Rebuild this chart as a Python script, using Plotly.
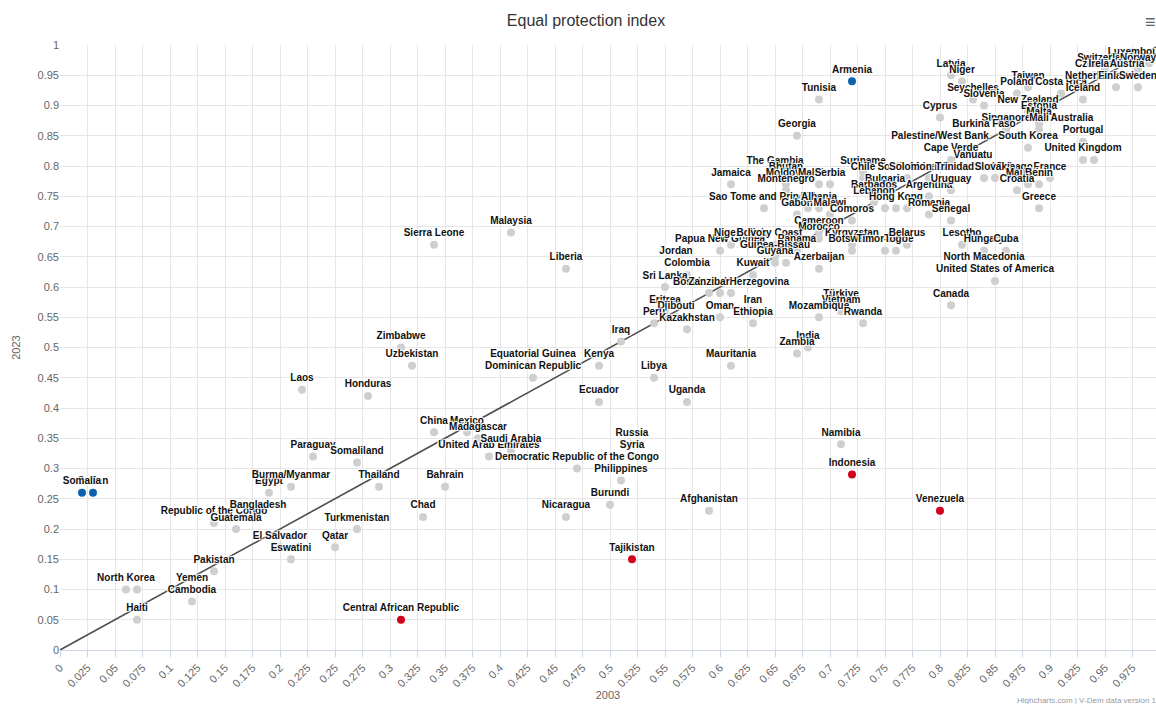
import plotly.graph_objects as go

# ---------------- data ----------------
countries = [
    "Sudan", "Somalia", "South Sudan", "North Korea", "Haiti", "Yemen", "Cambodia", "Pakistan",
    "Republic of the Congo", "Guatemala", "Bangladesh", "Egypt", "Burma/Myanmar", "Paraguay",
    "El Salvador", "Eswatini", "Qatar", "Turkmenistan", "Somaliland", "Thailand", "Honduras",
    "Laos", "Chad", "Bahrain", "Central African Republic", "China", "Mexico", "Madagascar",
    "United Arab Emirates", "Saudi Arabia", "Zimbabwe", "Uzbekistan", "Sierra Leone", "Malaysia",
    "Liberia", "Equatorial Guinea", "Dominican Republic", "Kenya", "Iraq", "Libya", "Ecuador",
    "Uganda", "Russia", "Syria", "Democratic Republic of the Congo", "Philippines", "Burundi",
    "Nicaragua", "Tajikistan", "Afghanistan", "Namibia", "Indonesia", "Venezuela", "Colombia",
    "Sri Lanka", "Jordan", "Bosnia and Herzegovina", "Tanzania", "Zanzibar", "Kuwait", "Eritrea",
    "Djibouti", "Peru", "Kazakhstan", "Oman", "Iran", "Ethiopia", "Türkiye", "Vietnam",
    "Mozambique", "Rwanda", "India", "Zambia", "Mauritania", "Jamaica", "The Gambia", "Bhutan",
    "Moldova", "Maldives", "Serbia", "Montenegro", "Sao Tome and Principe", "Gabon", "Fiji",
    "Albania", "Malawi", "Comoros", "Cameroon", "Morocco", "Kyrgyzstan", "Botswana",
    "Timor-Leste", "Togo", "Belarus", "Papua New Guinea", "Nigeria", "Bolivia", "Ivory Coast",
    "Panama", "Guinea-Bissau", "Guyana", "Nepal", "Azerbaijan", "Suriname", "Chile",
    "South Africa", "Solomon Islands", "Trinidad and Tobago", "Slovakia", "France", "Mauritius",
    "Benin", "Croatia", "Greece", "Bulgaria", "Barbados", "Lebanon", "Argentina", "Uruguay",
    "Hong Kong", "Israel", "Ghana", "Romania", "Senegal", "Lesotho", "Hungary", "Cuba",
    "North Macedonia", "United States of America", "Canada", "Armenia", "Tunisia", "Georgia",
    "Latvia", "Niger", "Seychelles", "Slovenia", "Cyprus", "Taiwan", "Poland", "Costa Rica",
    "Iceland", "New Zealand", "Estonia", "Malta", "Singapore", "Mali", "Australia",
    "Burkina Faso", "Palestine/West Bank", "South Korea", "Portugal", "Lithuania",
    "United Kingdom", "Germany", "Luxembourg", "Denmark", "Switzerland", "Norway", "Czechia",
    "Ireland", "Austria", "Netherlands", "Finland", "Sweden", "Cape Verde", "Vanuatu",
]

x2003 = [
    0.03, 0.02, 0.07, 0.06, 0.07, 0.12, 0.12, 0.14,
    0.14, 0.16, 0.18, 0.19, 0.21, 0.23,
    0.20, 0.21, 0.25, 0.27, 0.27, 0.29, 0.28,
    0.22, 0.33, 0.35, 0.31, 0.34, 0.37, 0.38,
    0.39, 0.41, 0.31, 0.32, 0.34, 0.41,
    0.46, 0.43, 0.43, 0.49, 0.51, 0.54, 0.49,
    0.57, 0.52, 0.52, 0.47, 0.51, 0.50,
    0.46, 0.52, 0.59, 0.71, 0.72, 0.80, 0.57,
    0.55, 0.56, 0.61, 0.60, 0.59, 0.63, 0.55,
    0.56, 0.54, 0.57, 0.60, 0.63, 0.63, 0.71, 0.71,
    0.69, 0.73, 0.68, 0.67, 0.61, 0.61, 0.65, 0.66,
    0.66, 0.69, 0.70, 0.66, 0.64, 0.67, 0.68,
    0.69, 0.70, 0.72, 0.69, 0.69, 0.72, 0.72,
    0.75, 0.76, 0.77, 0.60, 0.61, 0.63, 0.65,
    0.67, 0.65, 0.65, 0.66, 0.69, 0.73, 0.73,
    0.77, 0.79, 0.84, 0.85, 0.90, 0.88,
    0.89, 0.87, 0.89, 0.75, 0.74, 0.74, 0.79, 0.81,
    0.76, 0.75, 0.77, 0.79, 0.81, 0.82, 0.84, 0.86,
    0.84, 0.85, 0.81, 0.72, 0.69, 0.67,
    0.81, 0.82, 0.83, 0.84, 0.80, 0.88, 0.87, 0.91,
    0.93, 0.88, 0.89, 0.89, 0.86, 0.89, 0.92,
    0.84, 0.80, 0.88, 0.93, 0.95,
    0.93, 0.94, 0.98, 0.99, 0.95, 0.98, 0.94,
    0.95, 0.97, 0.94, 0.96, 0.98, 0.81, 0.83,
]

y2023 = [
    0.26, 0.26, 0.10, 0.10, 0.05, 0.10, 0.08, 0.13,
    0.21, 0.20, 0.22, 0.26, 0.27, 0.32,
    0.17, 0.15, 0.17, 0.20, 0.31, 0.27, 0.42,
    0.43, 0.22, 0.27, 0.05, 0.36, 0.36, 0.35,
    0.32, 0.33, 0.50, 0.47, 0.67, 0.69,
    0.63, 0.47, 0.45, 0.47, 0.51, 0.45, 0.41,
    0.41, 0.34, 0.32, 0.30, 0.28, 0.24,
    0.22, 0.15, 0.23, 0.34, 0.29, 0.23, 0.62,
    0.60, 0.64, 0.59, 0.59, 0.59, 0.62, 0.56,
    0.55, 0.54, 0.53, 0.55, 0.56, 0.54, 0.57, 0.56,
    0.55, 0.54, 0.50, 0.49, 0.47, 0.77, 0.79, 0.78,
    0.77, 0.77, 0.77, 0.76, 0.73, 0.72, 0.73,
    0.73, 0.72, 0.71, 0.69, 0.68, 0.67, 0.66,
    0.66, 0.66, 0.67, 0.66, 0.67, 0.67, 0.67,
    0.66, 0.65, 0.64, 0.64, 0.63, 0.79, 0.78,
    0.78, 0.78, 0.78, 0.78, 0.78, 0.77,
    0.77, 0.76, 0.73, 0.76, 0.75, 0.74, 0.75, 0.76,
    0.73, 0.73, 0.73, 0.72, 0.71, 0.67, 0.66, 0.66,
    0.63, 0.61, 0.57, 0.94, 0.91, 0.85,
    0.95, 0.94, 0.91, 0.90, 0.88, 0.93, 0.92, 0.92,
    0.91, 0.89, 0.88, 0.87, 0.86, 0.86, 0.86,
    0.85, 0.83, 0.83, 0.84, 0.83,
    0.81, 0.81, 0.97, 0.97, 0.96, 0.96, 0.95,
    0.95, 0.95, 0.93, 0.93, 0.93, 0.81, 0.80,
]

improved = ["Somalia", "Sudan", "Armenia"]
declined = ["Central African Republic", "Tajikistan", "Indonesia", "Venezuela"]
no_label = ["South Sudan", "Germany", "Denmark", "Lithuania", "Tanzania", "Nepal", "Ghana", "Israel"]

x_tick_labels = ["0", "0.025", "0.05", "0.075", "0.1", "0.125", "0.15", "0.175", "0.2", "0.225",
                 "0.25", "0.275", "0.3", "0.325", "0.35", "0.375", "0.4", "0.425", "0.45", "0.475",
                 "0.5", "0.525", "0.55", "0.575", "0.6", "0.625", "0.65", "0.675", "0.7", "0.725",
                 "0.75", "0.775", "0.8", "0.825", "0.85", "0.875", "0.9", "0.925", "0.95", "0.975"]
y_tick_labels = ["0", "0.05", "0.1", "0.15", "0.2", "0.25", "0.3", "0.35", "0.4", "0.45", "0.5",
                 "0.55", "0.6", "0.65", "0.7", "0.75", "0.8", "0.85", "0.9", "0.95", "1"]
diag = [0, 1]

# ---------------- styling ----------------
GRAY = "#cfcfcf"
BLUE = "#0b63ae"
RED = "#d0021b"
FONT = "Liberation Sans, Arial, sans-serif"

colors = [BLUE if c in improved else RED if c in declined else GRAY for c in countries]
labels = ["" if c in no_label else c for c in countries]

order = sorted(range(len(countries)), key=lambda i: colors[i] != GRAY)

fig = go.Figure()
fig.add_trace(go.Scatter(
    x=diag, y=diag, mode="lines",
    line=dict(color="#4d4d4d", width=1.6),
    hoverinfo="skip", showlegend=False,
))
fig.add_trace(go.Scatter(
    x=[x2003[i] for i in order], y=[y2023[i] for i in order],
    mode="markers+text",
    text=[labels[i] for i in order],
    hovertext=[countries[i] for i in order],
    textposition="top center",
    textfont=dict(family=FONT, size=10, color="#111111", weight="bold",
                  shadow="1px 1px 1px #fff, -1px -1px 1px #fff, 1px -1px 1px #fff, -1px 1px 1px #fff"),
    marker=dict(size=8, color=[colors[i] for i in order], line=dict(width=0)),
    cliponaxis=False,
    showlegend=False,
))

fig.update_layout(
    width=1156, height=704,
    margin=dict(l=60, r=0, t=45, b=54),
    paper_bgcolor="white", plot_bgcolor="white",
    font=dict(family=FONT, color="#666666"),
    title=dict(text="Equal protection index", x=586 / 1156, xanchor="center",
               y=1 - 20 / 704, yanchor="middle", yref="container",
               font=dict(size=16, color="#333333", family=FONT)),
    xaxis=dict(
        range=[0, 1096 / 1100],
        tickvals=[float(t) for t in x_tick_labels], ticktext=x_tick_labels,
        tickangle=-45, tickfont=dict(size=11, color="#666666"),
        showgrid=True, gridcolor="#e6e6e6", gridwidth=1,
        zeroline=False, showline=True, linecolor="#ccd6eb", linewidth=1,
        ticks="outside", ticklen=6, tickcolor="#ccd6eb",
        title=dict(text="2003", font=dict(size=11, color="#666666"), standoff=0),
        automargin=False,
    ),
    yaxis=dict(
        range=[0, 1],
        tickvals=[float(t) for t in y_tick_labels], ticktext=y_tick_labels,
        tickfont=dict(size=11, color="#666666"),
        showgrid=True, gridcolor="#e6e6e6", gridwidth=1,
        zeroline=False, showline=False, ticks="",
        title=dict(text="2023", font=dict(size=11, color="#666666"), standoff=14),
        automargin=False,
    ),
    annotations=[
        dict(text="≡", xref="paper", yref="paper", x=(1150 - 60) / 1096, y=1 + 23 / 605,
             xanchor="center", yanchor="middle", showarrow=False,
             font=dict(size=18, color="#666666")),
        dict(text="Highcharts.com | V-Dem data version 14", xref="paper", yref="paper",
             x=(1015 - 60) / 1096, y=-(700 - 650) / 605, xanchor="left", yanchor="middle",
             showarrow=False, font=dict(size=8, color="#999999")),
    ],
)

fig.write_html("out.html")
